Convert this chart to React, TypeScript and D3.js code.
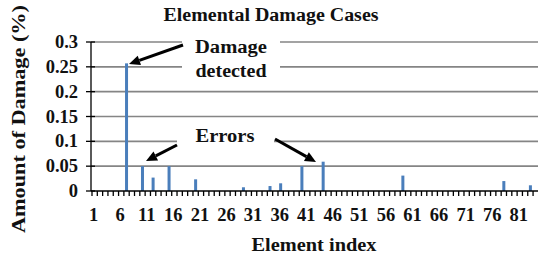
import React from "react";
import * as d3 from "d3";

// element indices 1..84
const elements: number[] = d3.range(1, 85);

// amount of damage (%) per element
const damage: number[] = [
  0, 0, 0, 0, 0, 0, 0.257, 0, 0, 0.05,
  0, 0.027, 0, 0, 0.05, 0, 0, 0, 0, 0.0235,
  0, 0, 0, 0, 0, 0, 0, 0, 0.0075, 0,
  0, 0, 0, 0.01, 0, 0.0155, 0, 0, 0, 0.05,
  0, 0, 0, 0.059, 0, 0, 0, 0, 0, 0,
  0, 0, 0, 0, 0, 0, 0, 0, 0.031, 0,
  0, 0, 0, 0, 0, 0, 0, 0, 0, 0,
  0, 0, 0, 0, 0, 0, 0, 0.02, 0, 0,
  0, 0, 0.0115, 0,
];

const xTickLabels: string[] = ["1", "6", "11", "16", "21", "26", "31", "36", "41", "46", "51", "56", "61", "66", "71", "76", "81"];
const yTicks: number[] = [0, 0.05, 0.1, 0.15, 0.2, 0.25, 0.3];

const W = 538;
const H = 258;
const textStyle: any = { fontFamily: "Liberation Serif, DejaVu Serif, serif", fontWeight: "bold" };

function Arrow({ x1, y1, x2, y2 }: any) {
  const ang = Math.atan2(y2 - y1, x2 - x1);
  const len = 11;
  const half = 5;
  const bx = x2 - len * Math.cos(ang);
  const by = y2 - len * Math.sin(ang);
  const px = -Math.sin(ang) * half;
  const py = Math.cos(ang) * half;
  return (
    <g>
      <line x1={x1} y1={y1} x2={bx} y2={by} stroke="#000" strokeWidth={3} />
      <polygon points={`${x2},${y2} ${bx + px},${by + py} ${bx - px},${by - py}`} fill="#000" />
    </g>
  );
}

export default function App() {
  const x = d3
    .scaleBand<number>()
    .domain(elements)
    .range([92, 92 + 84 * 5.314])
    .padding(0);
  const y = d3.scaleLinear().domain([0, 0.3]).range([191, 42]);
  const bw = 3;
  const cx = (e: number) => (x(e) as number) + x.bandwidth() / 2;

  return (
    <svg width={W} height={H} style={{ position: "absolute", left: 0, top: 0, display: "block", background: "#fff" }}>
      {/* gridlines */}
      <g stroke="#858585" strokeWidth={1.6}>
        {yTicks.slice(1).map((t) => (
          <line key={t} x1={91} x2={W} y1={y(t)} y2={y(t)} />
        ))}
      </g>

      {/* bars */}
      <g fill="#4a7ebb">
        {elements.map((e, i) =>
          damage[i] > 0 ? (
            <rect key={e} x={cx(e) - bw / 2} width={bw} y={y(damage[i])} height={y(0) - y(damage[i])} />
          ) : null
        )}
      </g>

      {/* axes */}
      <g stroke="#000" strokeWidth={1.3}>
        <line x1={91} x2={91} y1={y(0.3)} y2={y(0)} />
        <line x1={91} x2={W} y1={y(0)} y2={y(0)} />
        {yTicks.map((t) => (
          <line key={t} x1={86} x2={95} y1={y(t)} y2={y(t)} />
        ))}
        {elements.map((e) => (
          <line key={e} x1={x(e) as number} x2={x(e) as number} y1={y(0)} y2={y(0) + 5} />
        ))}
      </g>

      {/* y tick labels */}
      <g style={textStyle} fontSize={18.5} textAnchor="end" fill="#111">
        {yTicks.map((t) => (
          <text key={t} x={78} y={y(t) + 6}>
            {d3.format("~g")(t)}
          </text>
        ))}
      </g>

      {/* x tick labels */}
      <g style={textStyle} fontSize={18.5} textAnchor="middle" fill="#111">
        {xTickLabels.map((l) => (
          <text key={l} x={cx(+l) - 1} y={221}>
            {l}
          </text>
        ))}
      </g>

      {/* titles */}
      <text x={271} y={21} style={textStyle} fontSize={18} textAnchor="middle" textLength={215} lengthAdjust="spacingAndGlyphs" fill="#111">
        Elemental Damage Cases
      </text>
      <text x={314} y={251} style={textStyle} fontSize={18} textAnchor="middle" textLength={125} lengthAdjust="spacingAndGlyphs" fill="#111">
        Element index
      </text>
      <text transform="translate(25,119) rotate(-90)" style={textStyle} fontSize={18} textAnchor="middle" textLength={228} lengthAdjust="spacingAndGlyphs" fill="#111">
        Amount of Damage (%)
      </text>

      {/* annotations */}
      <rect x={182} y={33} width={98} height={50} fill="#fff" />
      <text x={231} y={53} style={textStyle} fontSize={18} textAnchor="middle" textLength={72} lengthAdjust="spacingAndGlyphs" fill="#111">
        Damage
      </text>
      <text x={231} y={77} style={textStyle} fontSize={18} textAnchor="middle" textLength={71} lengthAdjust="spacingAndGlyphs" fill="#111">
        detected
      </text>
      <rect x={177} y={125} width={97} height={22} fill="#fff" />
      <text x={225} y={142} style={textStyle} fontSize={18} textAnchor="middle" textLength={59} lengthAdjust="spacingAndGlyphs" fill="#111">
        Errors
      </text>

      <Arrow x1={183} y1={45} x2={129} y2={64} />
      <Arrow x1={177} y1={145} x2={146} y2={161} />
      <Arrow x1={275} y1={139} x2={316} y2={162} />
    </svg>
  );
}
